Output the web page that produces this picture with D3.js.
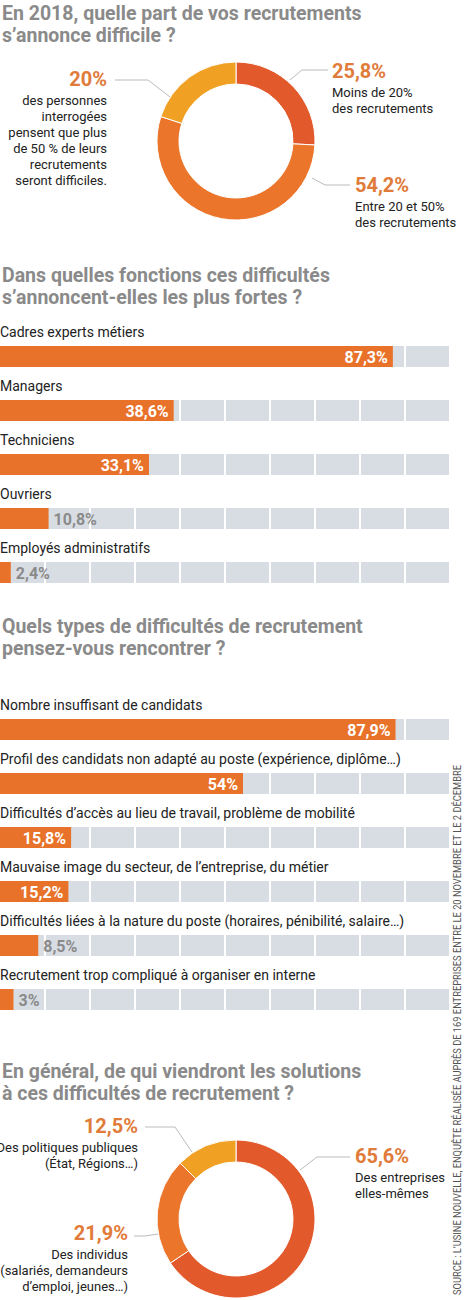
<!DOCTYPE html>
<html><head><meta charset="utf-8">
<script src="https://cdn.jsdelivr.net/npm/d3@7"></script>
<style>
body{margin:0;background:#fff;}
text{font-family:"Roboto",sans-serif;}
</style></head><body>
<script>
const part = [
  { name: 'Moins de 20%|des recrutements', value: 25.8, color: '#e25a2c' },
  { name: 'Entre 20 et 50%|des recrutements', value: 54.2, color: '#ea752b' },
  { name: 'des personnes|interrogées|pensent que plus|de 50 % de leurs|recrutements|seront difficiles.', value: 20, color: '#f0a022' },
];
const fonctions = ['Cadres experts métiers', 'Managers', 'Techniciens', 'Ouvriers', 'Employés administratifs'];
const fonctionsVal = [87.3, 38.6, 33.1, 10.8, 2.4];
const types = ['Nombre insuffisant de candidats',
  'Profil des candidats non adapté au poste (expérience, diplôme…)',
  'Difficultés d’accès au lieu de travail, problème de mobilité',
  'Mauvaise image du secteur, de l’entreprise, du métier',
  'Difficultés liées à la nature du poste (horaires, pénibilité, salaire…)',
  'Recrutement trop compliqué à organiser en interne'];
const typesVal = [87.9, 54, 15.8, 15.2, 8.5, 3];
const solutions = [
  { name: 'Des entreprises|elles-mêmes', value: 65.6, color: '#e25a2c' },
  { name: 'Des individus|(salariés, demandeurs|d’emploi, jeunes…)', value: 21.9, color: '#ea752b' },
  { name: 'Des politiques publiques|(État, Régions…)', value: 12.5, color: '#f0a022' },
];
const ticks = d3.range(0, 101, 10);

const fmt = v => String(v).replace('.', ',') + '%';
const svg = d3.select('body').append('svg').attr('width', 467).attr('height', 1300);

function title(y, lines) {
  lines.forEach((l, i) => svg.append('text').attr('x', 2).attr('y', y + i * 22)
    .attr('font-size', 19.5).attr('font-weight', 'bold').attr('fill', '#8a8a8a').text(l));
}

function donut(cx, cy, data, labels) {
  const pie = d3.pie().sort(null).value(d => d.value);
  const arc = d3.arc().innerRadius(57).outerRadius(79);
  const g = svg.append('g').attr('transform', `translate(${cx},${cy})`);
  g.selectAll('path').data(pie(data)).enter().append('path')
    .attr('d', arc).attr('fill', d => d.data.color).attr('stroke', '#fff').attr('stroke-width', 1);
  labels.forEach((L, i) => {
    svg.append('polyline').attr('points', L.line.map(p => p.join(',')).join(' '))
      .attr('fill', 'none').attr('stroke', '#bbb').attr('stroke-width', 1);
    svg.append('text').attr('x', L.x).attr('y', L.y).attr('text-anchor', L.anchor)
      .attr('font-size', 20).attr('font-weight', 'bold').attr('fill', '#e07b3a').text(fmt(data[i].value));
    data[i].name.split('|').forEach((t, j) => svg.append('text').attr('x', L.x).attr('y', L.y + 19 + j * 16)
      .attr('text-anchor', L.anchor).attr('font-size', 13).attr('fill', '#222').text(t));
  });
}

function bars(y0, names, vals) {
  const x = d3.scaleLinear().domain([0, 100]).range([0, 450]);
  names.forEach((n, i) => {
    const y = y0 + i * 54;
    svg.append('text').attr('x', 0).attr('y', y).attr('font-size', 14).attr('fill', '#222').text(n);
    const g = svg.append('g').attr('transform', `translate(0,${y + 9})`);
    g.selectAll('rect.cell').data(ticks.slice(0, -1)).enter().append('rect')
      .attr('x', d => x(d) + 1).attr('width', x(10) - 2).attr('height', 21).attr('fill', '#d8dde4');
    g.append('rect').attr('width', x(vals[i])).attr('height', 21).attr('fill', '#e8722a');
    const inside = vals[i] > 12;
    g.append('text').attr('x', inside ? x(vals[i]) - 5 : x(vals[i]) + 5)
      .attr('y', 17).attr('text-anchor', inside ? 'end' : 'start').attr('font-size', 16).attr('font-weight', 'bold')
      .attr('fill', inside ? '#fff' : '#8a8a8a').text(fmt(vals[i]));
  });
}

title(20, ['En 2018, quelle part de vos recrutements', 's’annonce difficile ?']);
donut(236, 141, part, [
  { x: 332, y: 78, anchor: 'start', line: [[290, 80], [302, 70], [328, 70]] },
  { x: 355, y: 192, anchor: 'start', line: [[312, 178], [325, 185], [350, 185]] },
  { x: 107, y: 86, anchor: 'end', line: [[170, 97], [148, 80], [115, 80]] },
]);

title(282, ['Dans quelles fonctions ces difficultés', 's’annoncent-elles les plus fortes ?']);
bars(337, fonctions, fonctionsVal);

title(633, ['Quels types de difficultés de recrutement', 'pensez-vous rencontrer ?']);
bars(710, types, typesVal);

title(1078, ['En général, de qui viendront les solutions', 'à ces difficultés de recrutement ?']);
donut(236, 1219, solutions, [
  { x: 355, y: 1163, anchor: 'start', line: [[300, 1170], [317, 1157], [350, 1157]] },
  { x: 128, y: 1240, anchor: 'end', line: [[158, 1234], [145, 1236], [134, 1236]] },
  { x: 138, y: 1133, anchor: 'end', line: [[192, 1152], [175, 1127], [145, 1127]] },
]);

svg.append('text').attr('transform', 'translate(461,1295) rotate(-90)')
  .attr('font-size', 11.5).attr('fill', '#555').attr('textLength', 530).attr('lengthAdjust', 'spacingAndGlyphs')
  .text('SOURCE : L’USINE NOUVELLE, ENQUÊTE RÉALISÉE AUPRÈS DE 169 ENTREPRISES ENTRE LE 20 NOVEMBRE ET LE 2 DÉCEMBRE');
</script></body></html>
